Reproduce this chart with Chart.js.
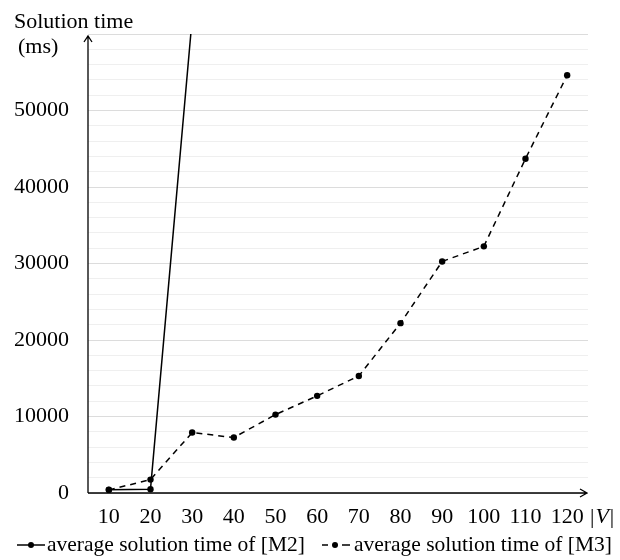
<!DOCTYPE html>
<html>
<head>
<meta charset="utf-8">
<script src="https://cdn.jsdelivr.net/npm/chart.js@4"></script>
<style>
  html, body { margin: 0; padding: 0; background: #fff; }
  #wrap { width: 620px; height: 560px; position: relative; }
</style>
</head>
<body>
<div id="wrap"><canvas id="timeChart"></canvas></div>
<script>
// Solution time chart

const categories = ['10', '20', '30', '40', '50', '60', '70', '80', '90', '100', '110', '120'];
const m2Times = [430, 500, 62000]; // shoots off the top after 20
const m3Times = [400, 1750, 7900, 7250, 10250, 12700, 15300, 22200, 30270, 32240, 43700, 54600];
const seriesLabels = ['average solution time of [M2]', 'average solution time of [M3]'];
const yLabelEvery = 10000;

const serif = "'Liberation Serif', 'Times New Roman', serif";
const fontSize = 22;

// axis arrows, titles and the legend drawn by hand
const decorations = {
    id: 'decorations',
    afterDraw(chart) {
        const ctx = chart.ctx;
        const a = chart.chartArea;
        ctx.save();
        ctx.strokeStyle = '#000';
        ctx.fillStyle = '#000';
        ctx.lineWidth = 1.3;

        // y axis with arrow
        ctx.beginPath();
        ctx.moveTo(a.left, a.bottom);
        ctx.lineTo(a.left, a.top + 2);
        ctx.moveTo(a.left - 4, a.top + 8);
        ctx.lineTo(a.left, a.top + 2);
        ctx.lineTo(a.left + 4, a.top + 8);
        // x axis with arrow
        ctx.moveTo(a.left, a.bottom);
        ctx.lineTo(a.right - 1, a.bottom);
        ctx.moveTo(a.right - 8, a.bottom - 4);
        ctx.lineTo(a.right - 1, a.bottom);
        ctx.lineTo(a.right - 8, a.bottom + 4);
        ctx.stroke();

        // titles
        ctx.font = fontSize + 'px ' + serif;
        ctx.textBaseline = 'alphabetic';
        ctx.textAlign = 'left';
        ctx.fillText('Solution time', 14, 28);
        ctx.fillText('(ms)', 18, 53);

        ctx.textBaseline = 'middle';
        let x = 590;
        const ty = 517;
        ctx.fillText('|', x, ty);
        x += ctx.measureText('|').width + 1;
        ctx.font = 'italic ' + fontSize + 'px ' + serif;
        ctx.fillText('V', x, ty);
        x += ctx.measureText('V').width + 1;
        ctx.font = fontSize + 'px ' + serif;
        ctx.fillText('|', x, ty);

        // legend
        const ly = 545;
        ctx.font = '21.5px ' + serif;
        ctx.lineWidth = 1.5;
        ctx.beginPath();
        ctx.moveTo(17, ly);
        ctx.lineTo(45, ly);
        ctx.stroke();
        ctx.beginPath();
        ctx.arc(31, ly, 3, 0, Math.PI * 2);
        ctx.fill();
        ctx.fillText(seriesLabels[0], 47, ly);

        ctx.beginPath();
        ctx.moveTo(322, ly);
        ctx.lineTo(328, ly);
        ctx.moveTo(342, ly);
        ctx.lineTo(350, ly);
        ctx.stroke();
        ctx.beginPath();
        ctx.arc(335, ly, 3, 0, Math.PI * 2);
        ctx.fill();
        ctx.fillText(seriesLabels[1], 354, ly);
        ctx.restore();
    }
};

const timeData = {
    labels: categories,
    datasets: [{
        label: seriesLabels[0],
        data: m2Times,
        borderColor: '#000',
        backgroundColor: '#000',
        borderWidth: 1.5,
        pointRadius: 3.2,
        pointBorderWidth: 0,
        tension: 0
    }, {
        label: seriesLabels[1],
        data: m3Times,
        borderColor: '#000',
        backgroundColor: '#000',
        borderWidth: 1.5,
        borderDash: [6, 5],
        pointRadius: 3.2,
        pointBorderWidth: 0,
        tension: 0
    }]
};

const config = {
    type: 'line',
    data: timeData,
    options: {
        responsive: true,
        maintainAspectRatio: false,
        animation: false,
        layout: {
            padding: { top: 34, right: 32, bottom: 0, left: 0 }
        },
        scales: {
            x: {
                offset: true,
                grid: { display: false, drawTicks: false },
                border: { display: false },
                ticks: {
                    color: '#000',
                    padding: 11,
                    maxRotation: 0,
                    autoSkip: false,
                    font: { family: serif, size: fontSize }
                },
                afterFit(scale) { scale.height = 67; }
            },
            y: {
                min: 0,
                max: 60000,
                grid: {
                    drawTicks: false,
                    color: (c) => c.tick.value % yLabelEvery === 0 ? '#dcdcdc' : '#efefef',
                    lineWidth: 1
                },
                border: { display: false },
                ticks: {
                    stepSize: 2000,
                    autoSkip: false,
                    color: '#000',
                    padding: 19,
                    font: { family: serif, size: fontSize },
                    callback: (v) => (v % yLabelEvery === 0 && v < 60000) ? v : ''
                },
                afterFit(scale) {
                    scale.width = 88;
                    scale.paddingTop = 0;
                    scale.paddingBottom = 0;
                }
            }
        },
        plugins: {
            legend: { display: false },
            tooltip: { enabled: false }
        }
    },
    plugins: [decorations]
};

const timeChart = new Chart(document.getElementById('timeChart'), config);
</script>
</body>
</html>
